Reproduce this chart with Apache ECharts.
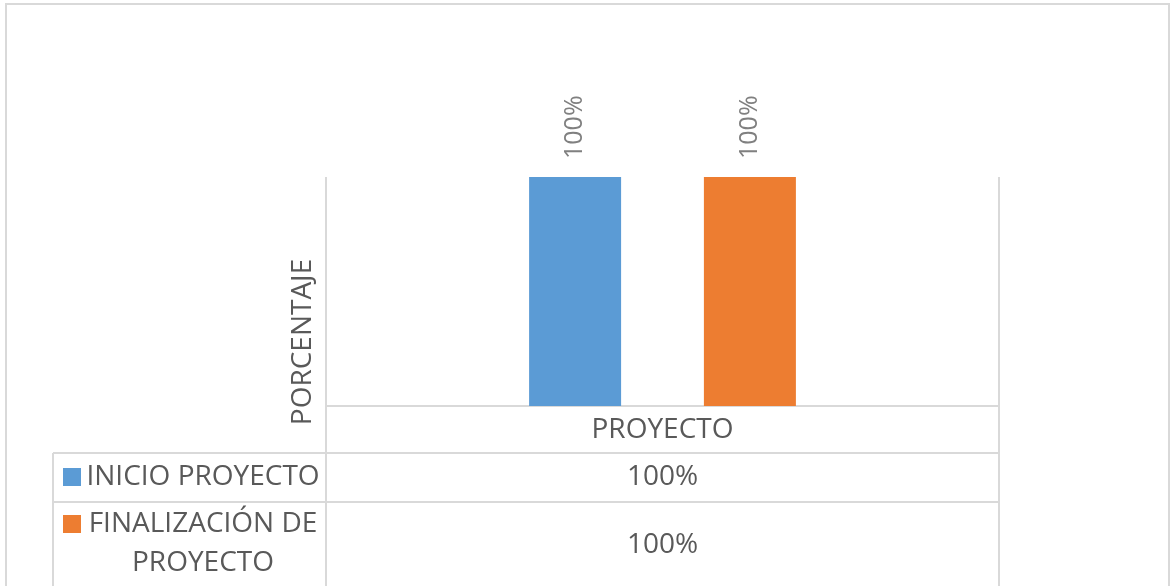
<!DOCTYPE html>
<html>
<head>
<meta charset="utf-8">
<script src="https://cdn.jsdelivr.net/npm/echarts@6/dist/echarts.min.js"></script>
<style>
html,body{margin:0;padding:0;background:#fff;}
#c{width:1171px;height:586px;}
</style>
</head>
<body>
<div id="c"></div>
<script>
const categories = ['PROYECTO'];
const seriesNames = ['INICIO PROYECTO', 'FINALIZACIÓN DE PROYECTO'];
const inicioValues = [100];
const finalizacionValues = [100];
const yAxisTitle = 'PORCENTAJE';

const colors = ['#5b9bd5', '#ed7d31'];
const FONT = '"Open Sans", sans-serif';
const TXT = '#595959';
const LINE = '#d9d9d9';
const FS = 28;

const chart = echarts.init(document.getElementById('c'), null, {renderer: 'canvas'});
const fmt = v => v + '%';

const option = {
  animation: false,
  backgroundColor: '#fff',
  grid: {left: 326, right: 172, top: 177, bottom: 180, containLabel: false},
  xAxis: {
    type: 'category',
    data: categories,
    axisLine: {show: true, lineStyle: {color: LINE, width: 2}},
    axisTick: {show: true, length: 182, lineStyle: {color: LINE, width: 2}},
    splitLine: {show: true, lineStyle: {color: LINE, width: 2}},
    axisLabel: {color: TXT, fontFamily: FONT, fontSize: FS, margin: 10}
  },
  yAxis: {
    type: 'value', min: 0, max: 100,
    axisLine: {show: false}, axisTick: {show: false},
    axisLabel: {show: false}, splitLine: {show: false}
  },
  series: [
    {name: seriesNames[0], type: 'bar', data: inicioValues, barWidth: 92, barGap: '90%',
     itemStyle: {color: colors[0]},
     label: {show: true, position: 'top', rotate: 90, distance: 18, align: 'left', verticalAlign: 'middle',
             color: '#808080', fontFamily: FONT, fontSize: 25, formatter: p => fmt(p.value)}},
    {name: seriesNames[1], type: 'bar', data: finalizacionValues, barWidth: 92,
     itemStyle: {color: colors[1]},
     label: {show: true, position: 'top', rotate: 90, distance: 18, align: 'left', verticalAlign: 'middle',
             color: '#808080', fontFamily: FONT, fontSize: 25, formatter: p => fmt(p.value)}}
  ]
};
chart.setOption(option);

// Data table drawn below the axis
const cx = chart.convertToPixel({xAxisIndex: 0}, categories[0]);
const rows = [
  {name: seriesNames[0], vals: inicioValues, top: 453, bottom: 502},
  {name: seriesNames[1], vals: finalizacionValues, top: 502, bottom: 592}
];
const graphics = [];
graphics.push({type: 'rect', silent: true, shape: {x: 6, y: 4, width: 1163, height: 620},
  style: {fill: 'none', stroke: LINE, lineWidth: 2}});
graphics.push({type: 'line', silent: true, shape: {x1: 53, y1: 453, x2: 53, y2: 600},
  style: {stroke: LINE, lineWidth: 2}});
rows.forEach((r, i) => {
  graphics.push({type: 'line', silent: true, shape: {x1: 53, y1: r.top, x2: 999, y2: r.top},
    style: {stroke: LINE, lineWidth: 2}});
  const lines = i === 0 ? [r.name] : [r.name.split(' ').slice(0, 2).join(' '), r.name.split(' ').slice(2).join(' ')];
  const firstY = i === 0 ? 477 : 524;
  graphics.push({type: 'rect', silent: true, shape: {x: 63, y: firstY - 9, width: 18, height: 18},
    style: {fill: colors[i]}});
  lines.forEach((t, k) => {
    graphics.push({type: 'text', silent: true,
      style: {text: t, x: 203, y: firstY + k * 39, align: 'center', verticalAlign: 'middle',
        fill: TXT, font: FS + 'px ' + FONT}});
  });
  const vy = i === 0 ? 477 : 545;
  graphics.push({type: 'text', silent: true,
    style: {text: fmt(r.vals[0]), x: cx, y: vy, align: 'center', verticalAlign: 'middle',
      fill: TXT, font: FS + 'px ' + FONT}});
});
graphics.push({type: 'text', silent: true, rotation: Math.PI / 2, x: 303, y: 342,
  style: {text: yAxisTitle, x: 0, y: 0, align: 'center', verticalAlign: 'middle', fill: TXT, font: FS + 'px ' + FONT}});
chart.setOption({graphic: graphics});
</script>
</body>
</html>
